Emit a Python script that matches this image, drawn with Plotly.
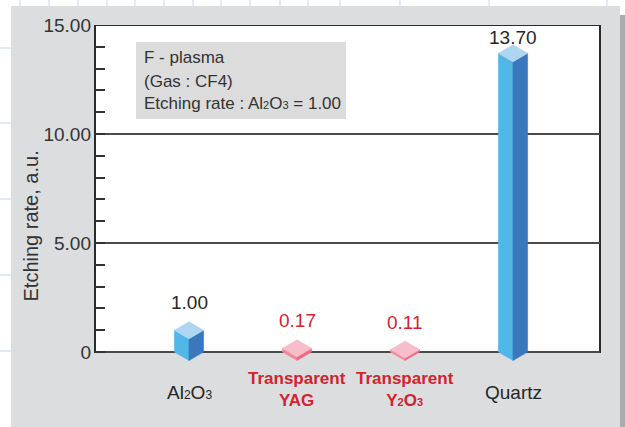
import plotly.graph_objects as go

# ---- data ----
SUB = "<span style='font-size:{s}px'>{t}</span>"
categories = ["Al{s2}O{s3}", "<b>Transparent</b><br><b>YAG</b>",
              "<b>Transparent</b><br><b>Y{s2}O{s3}</b>", "Quartz"]
values = [1.00, 0.17, 0.11, 13.70]
value_labels = ["1.00", "0.17", "0.11", "13.70"]
y_tick_vals = [0, 5, 10, 15]
y_tick_text = ["0", "5.00", "10.00", "15.00"]
y_title = "Etching rate, a.u."
info_lines = ["F - plasma", "(Gas : CF4)", "Etching rate : Al{s2}O{s3} = 1.00"]

# ---- styles ----
W, H = 625, 427
L, R, T, B = 95, 25, 25, 63
YMIN, YMAX = -0.55, 15
XMIN, XMAX = -0.8704, 3.8056
PW, PH = W - L - R, H - T - B
PPU = PH / (YMAX - YMIN)

blue = dict(left="#52B6E6", right="#3A78BE", top="#AED6F1", text="#262626", label="#262626")
pink = dict(left="#F2889C", right="#EC6B84", top="#F8BDCB", text="#D2232F", label="#D2232F")
styles = [blue, pink, pink, blue]
HW = 0.135    # half width (category units)
DEP = 0.39    # half depth of rhombus (value units)

FONT = "Liberation Sans, Arial, sans-serif"


def sub(text, size):
    return text.format(s2=SUB.format(s=size, t="2"), s3=SUB.format(s=size, t="3"))


def px(x):
    return (x - L) / PW


def py(y):
    return (H - B - y) / PH


fig = go.Figure()

for i, (v, st) in enumerate(zip(values, styles)):
    x = i
    faces = [
        ([x - HW, x, x, x - HW, x - HW], [0, -DEP, v - DEP, v, 0], st["left"]),
        ([x, x + HW, x + HW, x, x], [-DEP, 0, v, v - DEP, -DEP], st["right"]),
        ([x - HW, x, x + HW, x, x - HW], [v, v + DEP, v, v - DEP, v], st["top"]),
    ]
    for fx, fy, c in faces:
        fig.add_trace(go.Scatter(x=fx, y=fy, fill="toself", mode="lines",
                                 fillcolor=c, line=dict(color=c, width=0.6),
                                 hoverinfo="skip", showlegend=False))

shapes = []
# graph-paper background
for gx in [20, 49, 78, 107, 135, 164, 193, 221, 250, 280, 308, 340, 400, 489, 607]:
    shapes.append(dict(type="line", xref="paper", yref="paper", x0=px(gx), x1=px(gx),
                       y0=py(0), y1=py(H), line=dict(color="#C7D4EE", width=1), layer="below"))
for gy in [48, 123, 199, 275, 351]:
    shapes.append(dict(type="line", xref="paper", yref="paper", x0=px(0), x1=px(W),
                       y0=py(gy), y1=py(gy), line=dict(color="#C7D4EE", width=1), layer="below"))
# gray panel and shadow
shapes.append(dict(type="rect", xref="paper", yref="paper", x0=px(11), x1=px(620),
                   y0=py(6), y1=py(H + 2), fillcolor="#DCDDDF", line=dict(width=0), layer="below"))
shapes.append(dict(type="rect", xref="paper", yref="paper", x0=px(620), x1=px(W + 2),
                   y0=py(15), y1=py(H + 2), fillcolor="#AAABAD", line=dict(width=0), layer="below"))
# white plot frame
shapes.append(dict(type="rect", xref="paper", yref="y", x0=0, x1=1, y0=0, y1=YMAX,
                   fillcolor="white", line=dict(color="#2B2B2B", width=2), layer="below"))
# info box
shapes.append(dict(type="rect", xref="paper", yref="paper", x0=px(136), x1=px(346),
                   y0=py(42), y1=py(119), fillcolor="#DCDCDC", line=dict(width=0), layer="below"))

annotations = []
# value labels (placed above the bar top, squeezed under the frame if needed)
for i, (v, lab, st) in enumerate(zip(values, value_labels, styles)):
    shift = min(19, (YMAX - v - DEP) * PPU - 12)
    annotations.append(dict(x=i, y=v + DEP, xref="x", yref="y", text=lab, showarrow=False,
                            yanchor="middle", yshift=shift,
                            font=dict(family=FONT, size=19, color=st["text"])))
# category labels
for i, (c, st) in enumerate(zip(categories, styles)):
    if st is pink:
        annotations.append(dict(x=i, y=py(389), xref="x", yref="paper", text=sub(c, 11),
                                showarrow=False, yanchor="middle",
                                font=dict(family=FONT, size=17, color=st["label"])))
    else:
        annotations.append(dict(x=i, y=py(392), xref="x", yref="paper", text=sub(c, 12),
                                showarrow=False, yanchor="middle",
                                font=dict(family=FONT, size=19, color=st["label"])))
# axis title
annotations.append(dict(x=px(30.5), y=py(226), xref="paper", yref="paper", text=y_title,
                        showarrow=False, textangle=-90, xanchor="center", yanchor="middle",
                        font=dict(family=FONT, size=20, color="#333333")))
# info text
for k, (line, yc) in enumerate(zip(info_lines, [57, 81, 104])):
    annotations.append(dict(x=px(142), y=py(yc), xref="paper", yref="paper",
                            text=sub(line, 11), showarrow=False, xanchor="left",
                            yanchor="middle", align="left",
                            font=dict(family=FONT, size=17, color="#333333")))

fig.update_layout(
    width=W, height=H,
    margin=dict(l=L, r=R, t=T, b=B, pad=0),
    paper_bgcolor="white", plot_bgcolor="rgba(0,0,0,0)",
    shapes=shapes, annotations=annotations,
    xaxis=dict(range=[XMIN, XMAX], showgrid=False, zeroline=False, showline=False,
               showticklabels=False, ticks="", fixedrange=True),
    yaxis=dict(range=[YMIN, YMAX], tickvals=y_tick_vals, ticktext=y_tick_text,
               showgrid=True, gridcolor="#4A4A4A", gridwidth=1.5, zeroline=False, showline=False,
               ticks="inside", ticklen=10, tickcolor="#333333", tickwidth=1.5,
               ticklabelstandoff=3,
               tickfont=dict(family=FONT, size=19, color="#333333"),
               minor=dict(dtick=1, tick0=0, ticks="inside", ticklen=10, tickcolor="#333333",
                          tickwidth=1.5, showgrid=False),
               fixedrange=True),
)

fig.write_html("out.html", config={"displayModeBar": False},
               post_script="document.body.style.margin='0';document.body.style.overflow='hidden';")
